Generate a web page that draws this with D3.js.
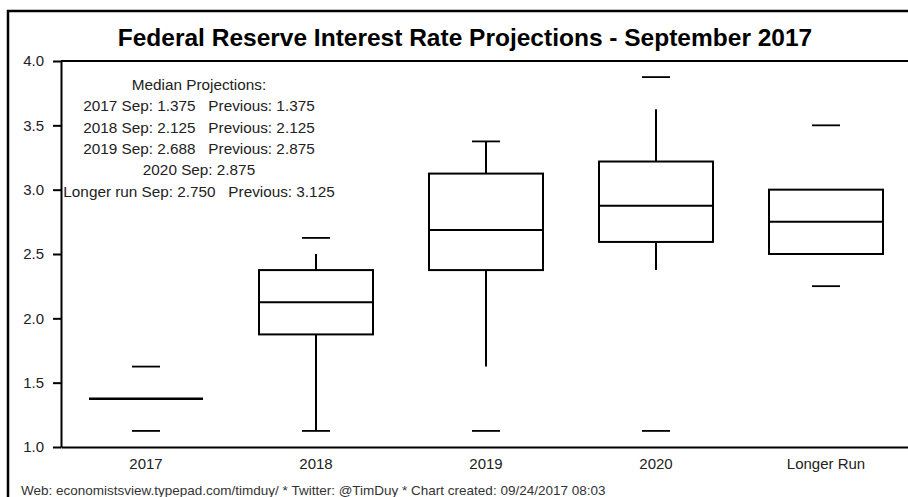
<!DOCTYPE html>
<html>
<head>
<meta charset="utf-8">
<script src="https://cdn.jsdelivr.net/npm/d3@7"></script>
<style>
  body { margin: 0; background: #fff; }
  svg { display: block; font-family: "Liberation Sans", Arial, Helvetica, sans-serif; }
</style>
</head>
<body>
<svg id="chart" width="908" height="497"></svg>
<script>
// FOMC dot plot summary, Sep 2017
var categories = ["2017", "2018", "2019", "2020", "Longer Run"];
var q1 = [1.375, 1.875, 2.375, 2.59375, 2.5];
var medians = [1.375, 2.125, 2.6875, 2.875, 2.75];
var q3 = [1.375, 2.375, 3.125, 3.21875, 3.0];
var whiskerLow = [1.375, 1.125, 1.625, 2.375, 2.5];
var whiskerHigh = [1.375, 2.5, 3.375, 3.625, 3.0];
var lowest = [1.125, 1.125, 1.125, 1.125, 2.25];
var highest = [1.625, 2.625, 3.375, 3.875, 3.5];
var yTicks = [1.0, 1.5, 2.0, 2.5, 3.0, 3.5, 4.0];

var noteLines = [
  "Median Projections:",
  "2017 Sep: 1.375   Previous: 1.375",
  "2018 Sep: 2.125   Previous: 2.125",
  "2019 Sep: 2.688   Previous: 2.875",
  "2020 Sep: 2.875",
  "Longer run Sep: 2.750   Previous: 3.125"
];
var title = "Federal Reserve Interest Rate Projections - September 2017";
var footer = "Web: economistsview.typepad.com/timduy/ * Twitter: @TimDuy * Chart created: 09/24/2017 08:03";

var svg = d3.select("#chart");
// plot box (window.top is reserved, hence the prefixes)
var plotLeft = 61, plotRight = 911, plotTop = 61, plotBottom = 447;

var x = d3.scaleBand().domain(categories).range([plotLeft, plotRight]).padding(0);
var y = d3.scaleLinear().domain([1, 4]).range([plotBottom, plotTop]);

var boxW = 114, capW = 28;

var rows = categories.map(function(c, i) {
  return { cat: c, q1: q1[i], med: medians[i], q3: q3[i],
           wlo: whiskerLow[i], whi: whiskerHigh[i],
           lo: lowest[i], hi: highest[i] };
});

// outer frame (runs off the right/bottom edges)
svg.append("rect")
  .attr("x", 8).attr("y", 11)
  .attr("width", 940).attr("height", 520)
  .attr("fill", "none").attr("stroke", "#000").attr("stroke-width", 2.5);

svg.append("text")
  .attr("x", 465).attr("y", 46)
  .attr("text-anchor", "middle")
  .attr("font-size", 24.5).attr("font-weight", "bold")
  .attr("fill", "#000")
  .text(title);

// top border of the plot
svg.append("line")
  .attr("x1", plotLeft).attr("x2", plotRight)
  .attr("y1", plotTop).attr("y2", plotTop)
  .attr("stroke", "#000").attr("stroke-width", 2);

var yAxis = svg.append("g")
  .attr("transform", "translate(" + plotLeft + ",0)")
  .call(d3.axisLeft(y).tickValues(yTicks).tickFormat(d3.format(".1f"))
        .tickSizeInner(8).tickSizeOuter(0).tickPadding(9));

var xAxis = svg.append("g")
  .attr("transform", "translate(0," + plotBottom + ")")
  .call(d3.axisBottom(x).tickSize(0).tickPadding(11));

[yAxis, xAxis].forEach(function(g) {
  g.select(".domain").attr("stroke", "#000").attr("stroke-width", 2);
  g.selectAll(".tick line").attr("stroke", "#000").attr("stroke-width", 2);
  g.selectAll(".tick text").attr("font-size", 15).attr("fill", "#222")
    .attr("font-family", "Liberation Sans, Arial, sans-serif");
});

var boxes = svg.append("g").attr("class", "boxes")
  .selectAll("g").data(rows).enter().append("g")
  .attr("transform", function(d) { return "translate(" + (x(d.cat) + x.bandwidth() / 2) + ",0)"; });

// whiskers
boxes.append("line")
  .attr("x1", 0).attr("x2", 0)
  .attr("y1", function(d) { return y(d.q3); })
  .attr("y2", function(d) { return y(d.whi); })
  .attr("stroke", "#000").attr("stroke-width", 2);
boxes.append("line")
  .attr("x1", 0).attr("x2", 0)
  .attr("y1", function(d) { return y(d.q1); })
  .attr("y2", function(d) { return y(d.wlo); })
  .attr("stroke", "#000").attr("stroke-width", 2);

// box
boxes.append("rect")
  .attr("x", -boxW / 2).attr("width", boxW)
  .attr("y", function(d) { return y(d.q3); })
  .attr("height", function(d) { return y(d.q1) - y(d.q3); })
  .attr("fill", "none").attr("stroke", "#000").attr("stroke-width", 2);

boxes.append("line")
  .attr("x1", -boxW / 2).attr("x2", boxW / 2)
  .attr("y1", function(d) { return y(d.med); })
  .attr("y2", function(d) { return y(d.med); })
  .attr("stroke", "#000").attr("stroke-width", function(d) { return d.q1 === d.q3 ? 2.6 : 2; });

// extremes
boxes.append("line")
  .attr("x1", -capW / 2).attr("x2", capW / 2)
  .attr("y1", function(d) { return y(d.hi); })
  .attr("y2", function(d) { return y(d.hi); })
  .attr("stroke", "#000").attr("stroke-width", 1.8);
boxes.append("line")
  .attr("x1", -capW / 2).attr("x2", capW / 2)
  .attr("y1", function(d) { return y(d.lo); })
  .attr("y2", function(d) { return y(d.lo); })
  .attr("stroke", "#000").attr("stroke-width", 1.8);

// median projections note
svg.append("g").selectAll("text").data(noteLines).enter().append("text")
  .attr("x", 199)
  .attr("y", function(d, i) { return 90 + i * 21.3; })
  .attr("text-anchor", "middle")
  .attr("font-size", 15.3).attr("fill", "#222")
  .style("white-space", "pre")
  .text(function(d) { return d; });

svg.append("text")
  .attr("x", 21).attr("y", 495)
  .attr("font-size", 13.5).attr("fill", "#333")
  .text(footer);
</script>
</body>
</html>
